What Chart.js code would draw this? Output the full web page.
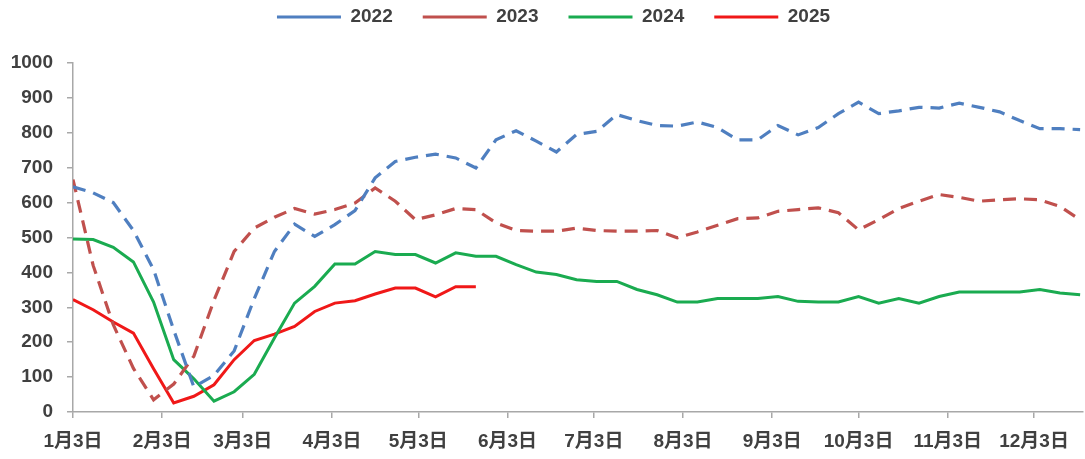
<!DOCTYPE html>
<html>
<head>
<meta charset="utf-8">
<script src="https://cdn.jsdelivr.net/npm/chart.js@4.4.1/dist/chart.umd.min.js"></script>
<style>
html,body{margin:0;padding:0;background:#ffffff;}
#wrap{width:1085px;height:459px;position:relative;overflow:hidden;}
</style>
</head>
<body>
<div id="wrap"><canvas id="c" width="1085" height="459"></canvas></div>
<script>
// Weekly observation dates (month/day)
const categories = ['1/3','1/10','1/17','1/24','1/31','2/7','2/14','2/21','2/28','3/7','3/14','3/21','3/28',
  '4/4','4/11','4/18','4/25','5/2','5/9','5/16','5/23','5/30','6/6','6/13','6/20','6/27',
  '7/4','7/11','7/18','7/25','8/1','8/8','8/15','8/22','8/29','9/5','9/12','9/19','9/26',
  '10/3','10/10','10/17','10/24','10/31','11/7','11/14','11/21','11/28','12/5','12/12','12/19'];

// Axis tick dates and labels
const tickDates = ['1/3','2/3','3/3','4/3','5/3','6/3','7/3','8/3','9/3','10/3','11/3','12/3'];
const tickLabels = ['1月3日','2月3日','3月3日','4月3日','5月3日','6月3日','7月3日','8月3日','9月3日','10月3日','11月3日','12月3日'];
const yTicks = [0,100,200,300,400,500,600,700,800,900,1000];

// Series values
const s2022 = [645,628,600,520,408,235,72,105,175,325,460,538,503,
  537,577,671,718,730,739,728,699,780,806,776,745,795,
  804,852,835,821,819,831,815,780,780,821,794,815,855,
  888,855,863,873,871,885,873,860,835,812,812,809];
const s2023 = [666,420,250,125,35,80,160,320,460,527,558,583,567,
  580,599,642,604,551,565,583,580,542,520,518,518,527,
  520,518,518,520,499,516,535,554,556,575,580,585,571,
  522,551,583,604,623,615,604,608,611,608,589,551];
const s2024 = [496,494,472,430,315,150,95,31,58,108,212,312,360,
  424,424,460,451,451,427,456,446,446,422,401,394,379,
  374,374,351,336,315,315,325,325,325,331,317,315,315,
  331,312,325,312,331,344,344,344,344,351,341,336];
const s2025 = [322,293,258,226,124,26,45,78,150,205,223,245,288,
  312,319,338,355,355,330,359,359];

const seriesNames = ['2022','2023','2024','2025'];

const monthStart = [0,31,59,90,120,151,181,212,243,273,304,334];
function dayIndex(md){
  const p = md.split('/').map(Number);
  return monthStart[p[0]-1] + p[1] - 3;
}
function toPoints(vals){
  return vals.map((v,i)=>({x: dayIndex(categories[i]), y: v}));
}
const tickValues = tickDates.map(dayIndex);

const FONT = "'Liberation Sans', 'Noto Sans CJK SC', Arial, sans-serif";
const TXT = '#404040';
const AXIS = '#a8a8a8';

const legendLayout = {
  id: 'legendLayout',
  beforeLayout(chart){
    const lg = chart.legend;
    if (lg && !lg._patched){
      const fit = lg.fit;
      lg.fit = function(){ fit.call(this); this.height = 63; };
      lg._patched = true;
    }
  },
  afterLayout(chart){
    const lg = chart.legend;
    const P = lg.options.labels.padding;
    lg.top = 7.5 - P;
    lg.left += 12; lg.right += 12;
  }
};

new Chart(document.getElementById('c'), {
  type: 'line',
  data: {
    datasets: [
      {label: seriesNames[0], data: toPoints(s2022), borderColor: '#4f7fc0', borderWidth: 3.2, borderDash: [13, 8], pointRadius: 0, tension: 0, fill: false},
      {label: seriesNames[1], data: toPoints(s2023), borderColor: '#c0504d', borderWidth: 3.2, borderDash: [13, 8], pointRadius: 0, tension: 0, fill: false},
      {label: seriesNames[2], data: toPoints(s2024), borderColor: '#1aab50', borderWidth: 3, pointRadius: 0, tension: 0, fill: false},
      {label: seriesNames[3], data: toPoints(s2025), borderColor: '#f01818', borderWidth: 3, pointRadius: 0, tension: 0, fill: false}
    ]
  },
  options: {
    responsive: false,
    animation: false,
    devicePixelRatio: 1,
    layout: {padding: {left: 0, right: 2, top: 0, bottom: 0}},
    plugins: {
      tooltip: {enabled: false},
      legend: {
        display: true,
        position: 'top',
        labels: {
          usePointStyle: true,
          pointStyle: 'line',
          pointStyleWidth: 64,
          boxWidth: 64,
          padding: 30,
          color: TXT,
          font: {family: FONT, size: 19, weight: 'bold'}
        }
      }
    },
    scales: {
      x: {
        type: 'linear',
        min: 0,
        max: 351,
        afterBuildTicks(scale){ scale.ticks = tickValues.map(v => ({value: v})); },
        afterFit(scale){ scale.height = 47; },
        grid: {display: true, drawOnChartArea: false, drawTicks: true, tickLength: 6, color: AXIS, lineWidth: 1.5},
        border: {display: true, color: AXIS, width: 1.5},
        ticks: {
          autoSkip: false, maxRotation: 0, minRotation: 0, padding: 12,
          color: TXT, font: {family: FONT, size: 19, weight: 'bold'},
          callback(value){ const i = tickValues.indexOf(value); return i >= 0 ? tickLabels[i] : ''; }
        }
      },
      y: {
        type: 'linear',
        min: yTicks[0],
        max: yTicks[yTicks.length-1],
        afterBuildTicks(scale){ scale.ticks = yTicks.map(v => ({value: v})); },
        afterFit(scale){ scale.width = 73; },
        grid: {display: true, drawOnChartArea: false, drawTicks: true, tickLength: 6, color: AXIS, lineWidth: 1.5},
        border: {display: true, color: AXIS, width: 1.5},
        ticks: {
          padding: 14, color: TXT, font: {family: FONT, size: 19, weight: 'bold'},
          callback(value){ return String(value); }
        }
      }
    }
  },
  plugins: [legendLayout]
});
</script>
</body>
</html>
